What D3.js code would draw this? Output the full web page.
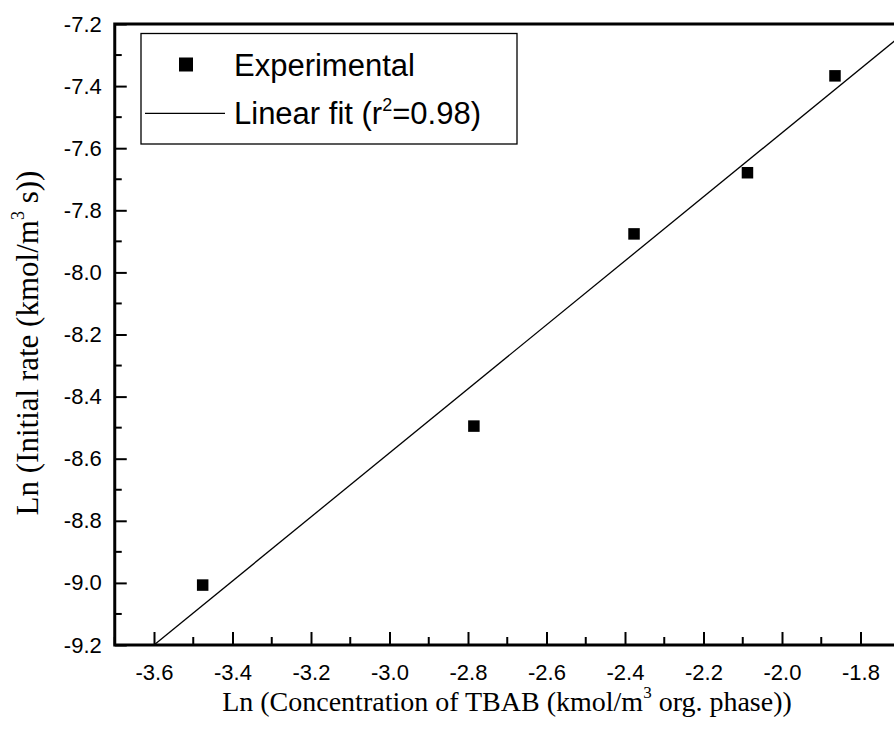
<!DOCTYPE html>
<html>
<head>
<meta charset="utf-8">
<script src="https://cdnjs.cloudflare.com/ajax/libs/d3/7.8.5/d3.min.js"></script>
<style>
  html, body { margin: 0; padding: 0; background: #fff; }
  svg { display: block; }
</style>
</head>
<body>
<svg id="chart" width="894" height="743"></svg>
<script>
// ---- data ----
const expX = [-3.476, -2.785, -2.377, -2.088, -1.865];
const expY = [-9.007, -8.495, -7.876, -7.679, -7.367];
const fitX = [-3.6, -1.7];
const fitY = [-9.2, -7.241];
const xTicks = [-3.6, -3.4, -3.2, -3.0, -2.8, -2.6, -2.4, -2.2, -2.0, -1.8];
const yTicks = [-7.2, -7.4, -7.6, -7.8, -8.0, -8.2, -8.4, -8.6, -8.8, -9.0, -9.2];
const xMinor = [-3.7, -3.5, -3.3, -3.1, -2.9, -2.7, -2.5, -2.3, -2.1, -1.9, -1.7];
const yMinor = [-7.3, -7.5, -7.7, -7.9, -8.1, -8.3, -8.5, -8.7, -8.9, -9.1];
const legendLabels = ["Experimental", "Linear fit (r", "2", "=0.98)"];

(function () {
// ---- layout ----
const svg = d3.select("#chart");
const x = d3.scaleLinear().domain([-3.7, -1.7]).range([114.75, 899.75]);
const y = d3.scaleLinear().domain([-9.2, -7.2]).range([645, 24]);
const pL = x.range()[0], pR = x.range()[1], pT = y.range()[1], pB = y.range()[0];

const sans = "'Liberation Sans', Arial, sans-serif";
const serif = "'Liberation Serif', 'Times New Roman', serif";

// fit line
svg.append("path")
  .datum(fitX.map((d, i) => [d, fitY[i]]))
  .attr("fill", "none").attr("stroke", "#000").attr("stroke-width", 1.3)
  .attr("d", d3.line().x(d => x(d[0])).y(d => y(d[1])));

// points
const ms = 11.5;
svg.selectAll("rect.pt").data(expX.map((d, i) => [d, expY[i]])).enter()
  .append("rect").attr("class", "pt")
  .attr("x", d => x(d[0]) - ms / 2).attr("y", d => y(d[1]) - ms / 2)
  .attr("width", ms).attr("height", ms).attr("fill", "#000");

// axes (ticks inward)
const fmt = d => d3.format(".1f")(d).replace("\u2212", "-");
const xAxis = d3.axisBottom(x).tickValues(xTicks).tickSize(-13).tickPadding(19).tickFormat(fmt);
const gx = svg.append("g").attr("transform", `translate(0,${pB})`).call(xAxis);
gx.select(".domain").remove();
gx.selectAll(".tick line").attr("stroke-width", 2);
gx.selectAll(".tick text").attr("font-family", sans).attr("font-size", 22).attr("fill", "#000");

svg.append("g").attr("transform", `translate(0,${pB})`)
  .selectAll("line").data(xMinor).enter().append("line")
  .attr("x1", d => x(d)).attr("x2", d => x(d)).attr("y1", 0).attr("y2", -8)
  .attr("stroke", "#000").attr("stroke-width", 2);

const yAxis = d3.axisLeft(y).tickValues(yTicks).tickSize(-12).tickPadding(13).tickFormat(fmt);
const gy = svg.append("g").attr("transform", `translate(${pL},0)`).call(yAxis);
gy.select(".domain").remove();
gy.selectAll(".tick line").attr("stroke-width", 2);
gy.selectAll(".tick text").attr("font-family", sans).attr("font-size", 22).attr("fill", "#000");

svg.append("g").attr("transform", `translate(${pL},0)`)
  .selectAll("line").data(yMinor).enter().append("line")
  .attr("y1", d => y(d)).attr("y2", d => y(d)).attr("x1", 0).attr("x2", 7)
  .attr("stroke", "#000").attr("stroke-width", 2);

// frame
svg.append("rect").attr("x", pL).attr("y", pT)
  .attr("width", pR - pL).attr("height", pB - pT)
  .attr("fill", "none").attr("stroke", "#000").attr("stroke-width", 3);

// legend
const lg = svg.append("g");
lg.append("rect").attr("x", 141).attr("y", 33.5).attr("width", 376).attr("height", 110.5)
  .attr("fill", "#fff").attr("stroke", "#000").attr("stroke-width", 1.3);
lg.append("rect").attr("x", 186 - 7).attr("y", 64.5 - 7).attr("width", 14).attr("height", 14).attr("fill", "#000");
lg.append("line").attr("x1", 145).attr("x2", 225).attr("y1", 113.3).attr("y2", 113.3)
  .attr("stroke", "#000").attr("stroke-width", 1.3);
lg.append("text").attr("x", 234).attr("y", 76).attr("font-family", sans).attr("font-size", 31)
  .text(legendLabels[0]);
const t2 = lg.append("text").attr("x", 234).attr("y", 124).attr("font-family", sans).attr("font-size", 31);
t2.append("tspan").text(legendLabels[1]);
t2.append("tspan").attr("font-size", 18).attr("dy", -13).text(legendLabels[2]);
t2.append("tspan").attr("dy", 13).text(legendLabels[3]);

// x title
const xt = svg.append("text").attr("x", 507).attr("y", 711).attr("text-anchor", "middle")
  .attr("font-family", serif).attr("font-size", 28);
xt.append("tspan").text("Ln (Concentration of TBAB (kmol/m");
xt.append("tspan").attr("font-size", 17).attr("dy", -13).text("3");
xt.append("tspan").attr("dy", 13).text(" org. phase))");

// y title
const yt = svg.append("text").attr("transform", "translate(38,343) rotate(-90)")
  .attr("text-anchor", "middle").attr("font-family", serif).attr("font-size", 31);
yt.append("tspan").text("Ln (Initial rate (kmol/m");
yt.append("tspan").attr("font-size", 18).attr("dy", -14).text("3");
yt.append("tspan").attr("dy", 14).text(" s))");
})();
</script>
</body>
</html>
